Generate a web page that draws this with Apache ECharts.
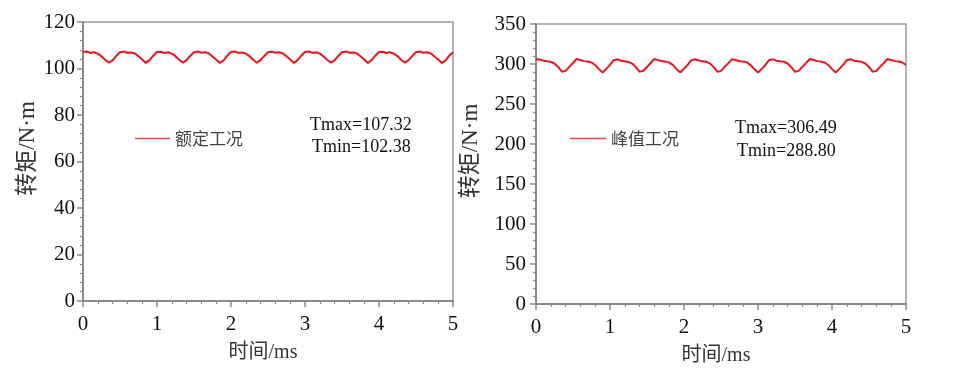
<!DOCTYPE html>
<html>
<head>
<meta charset="utf-8">
<script src="https://cdn.jsdelivr.net/npm/echarts@6/dist/echarts.min.js"></script>
<style>html,body{margin:0;padding:0;background:#fff;}#c{width:957px;height:381px;}</style>
</head>
<body>
<div id="c"></div>
<script>
// time samples (ms)
var time = [0,0.05,0.1,0.15,0.2,0.25,0.3,0.35,0.4,0.45,0.5,0.55,0.6,0.65,0.7,0.75,0.8,0.85,0.9,0.95,
1,1.05,1.1,1.15,1.2,1.25,1.3,1.35,1.4,1.45,1.5,1.55,1.6,1.65,1.7,1.75,1.8,1.85,1.9,1.95,
2,2.05,2.1,2.15,2.2,2.25,2.3,2.35,2.4,2.45,2.5,2.55,2.6,2.65,2.7,2.75,2.8,2.85,2.9,2.95,
3,3.05,3.1,3.15,3.2,3.25,3.3,3.35,3.4,3.45,3.5,3.55,3.6,3.65,3.7,3.75,3.8,3.85,3.9,3.95,
4,4.05,4.1,4.15,4.2,4.25,4.3,4.35,4.4,4.45,4.5,4.55,4.6,4.65,4.7,4.75,4.8,4.85,4.9,4.95,5];

// rated condition torque (N·m)
var ratedTorque = [
107.1,107.3,106.7,107.0,106.4,105.2,103.8,102.5,103.5,105.4,
107.0,107.3,106.8,106.9,106.5,105.3,103.9,102.4,103.6,105.5,
107.1,107.2,106.7,107.0,106.4,105.3,103.8,102.5,103.6,105.4,
107.0,107.3,106.8,107.0,106.5,105.2,103.9,102.4,103.5,105.5,
107.1,107.3,106.7,106.9,106.4,105.3,103.8,102.5,103.6,105.4,
107.0,107.2,106.8,107.0,106.5,105.3,103.9,102.4,103.6,105.5,
107.1,107.3,106.7,107.0,106.4,105.2,103.8,102.5,103.5,105.4,
107.0,107.3,106.8,106.9,106.5,105.3,103.9,102.4,103.6,105.5,
107.1,107.2,106.7,107.0,106.4,105.3,103.8,102.5,103.6,105.4,
107.0,107.3,106.8,107.0,106.5,105.2,103.9,102.4,103.5,105.5,
107.0];

// peak condition torque (N·m)
var peakTorque = [
306.0,305.6,304.2,303.4,302.7,300.6,296.3,290.3,291.4,296.4,301.2,306.2,304.9,303.6,303.1,301.9,298.7,293.6,289.4,293.9,298.9,
304.8,305.9,304.1,303.5,302.6,300.5,296.2,290.2,291.5,296.3,301.3,306.3,304.8,303.7,303.0,301.8,298.8,293.5,289.3,294.0,298.8,
304.7,306.0,304.3,303.3,302.7,300.7,296.4,290.4,291.3,296.5,301.1,306.1,305.0,303.5,303.1,302.0,298.6,293.7,289.5,293.8,299.0,
304.9,305.8,304.2,303.4,302.8,300.6,296.2,290.3,291.4,296.4,301.2,306.2,304.9,303.6,303.0,301.9,298.7,293.6,289.4,293.9,298.9,
304.8,305.9,304.2,303.4,302.7,300.6,296.3,290.3,291.4,296.4,301.2,306.2,304.9,303.6,303.1,301.9,298.7];

var xTicks = [0,1,2,3,4,5];
var seriesNames = ['额定工况','峰值工况'];
var notesRated = ['Tmax=107.32','Tmin=102.38'];
var notesPeak = ['Tmax=306.49','Tmin=288.80'];

function zip(xs, ys){ return xs.map(function(x,i){ return [x, ys[i]]; }); }

var SERIF = "'Liberation Serif','Times New Roman','Noto Sans CJK SC',serif";
var axisGray = '#8a8a8a';

function xAx(gi){
  return {
    type:'value', gridIndex:gi, min:xTicks[0], max:xTicks[xTicks.length-1], interval:1,
    name:'时间/ms', nameLocation:'middle', nameGap:42,
    nameTextStyle:{fontFamily:SERIF, fontSize:20, color:'#333', padding:[0,10,0,0]},
    axisLine:{show:true, lineStyle:{color:axisGray, width:2}},
    axisTick:{show:true, length:6, lineStyle:{color:axisGray, width:1.5}},
    minorTick:{show:true, splitNumber:5, length:3, lineStyle:{color:axisGray, width:1.2}},
    axisLabel:{fontFamily:SERIF, fontSize:21, color:'#111', margin:13},
    splitLine:{show:false}
  };
}
function yAx(gi, max, interval, gap, margin){
  return {
    type:'value', gridIndex:gi, min:0, max:max, interval:interval,
    name:'转矩/N·m', nameLocation:'middle', nameGap:gap,
    nameTextStyle:{fontFamily:SERIF, fontSize:23, color:'#333', padding:[0,0,0,26]},
    axisLine:{show:true, lineStyle:{color:axisGray, width:2}},
    axisTick:{show:true, length:6, lineStyle:{color:axisGray, width:1.5}},
    minorTick:{show:true, splitNumber:5, length:3, lineStyle:{color:axisGray, width:1.2}},
    axisLabel:{fontFamily:SERIF, fontSize:21, color:'#111', margin:margin},
    splitLine:{show:false}
  };
}

var legendText = {fontFamily:"'Noto Sans CJK SC',sans-serif", fontSize:17, color:'#444'};
var chart = echarts.init(document.getElementById('c'), null, {renderer:'canvas'});
chart.setOption({
  animation:false,
  backgroundColor:'#fff',
  grid:[
    {left:83, top:22, width:370, height:279, show:true, borderColor:'#9a9a9a', borderWidth:1.5},
    {left:536, top:24, width:370, height:280, show:true, borderColor:'#9a9a9a', borderWidth:1.5}
  ],
  xAxis:[xAx(0), xAx(1)],
  yAxis:[yAx(0,120,20,44,8), yAx(1,350,50,54,10)],
  legend:[
    {data:[{name:seriesNames[0], icon:'rect', itemStyle:{color:'#e8474d'}}], left:130, top:125, itemWidth:35, itemHeight:1.6, itemGap:6,
     textStyle:legendText},
    {data:[{name:seriesNames[1], icon:'rect', itemStyle:{color:'#e8474d'}}], left:565, top:125, itemWidth:36, itemHeight:1.6, itemGap:5,
     textStyle:legendText}
  ],
  graphic:[
    {type:'text', left:310, top:116, style:{text:notesRated[0], font:"18px 'Liberation Serif'", fill:'#111'}},
    {type:'text', left:312, top:138, style:{text:notesRated[1], font:"18px 'Liberation Serif'", fill:'#111'}},
    {type:'text', left:735, top:119, style:{text:notesPeak[0], font:"18px 'Liberation Serif'", fill:'#111'}},
    {type:'text', left:737, top:142, style:{text:notesPeak[1], font:"18px 'Liberation Serif'", fill:'#111'}}
  ],
  series:[
    {name:seriesNames[0], type:'line', xAxisIndex:0, yAxisIndex:0, data:zip(time, ratedTorque),
     showSymbol:false, symbol:'none', lineStyle:{color:'#e8161e', width:2}, itemStyle:{color:'#e8161e'}},
    {name:seriesNames[1], type:'line', xAxisIndex:1, yAxisIndex:1, data:zip(time, peakTorque),
     showSymbol:false, symbol:'none', lineStyle:{color:'#e8161e', width:2}, itemStyle:{color:'#e8161e'}}
  ]
});
</script>
</body>
</html>
